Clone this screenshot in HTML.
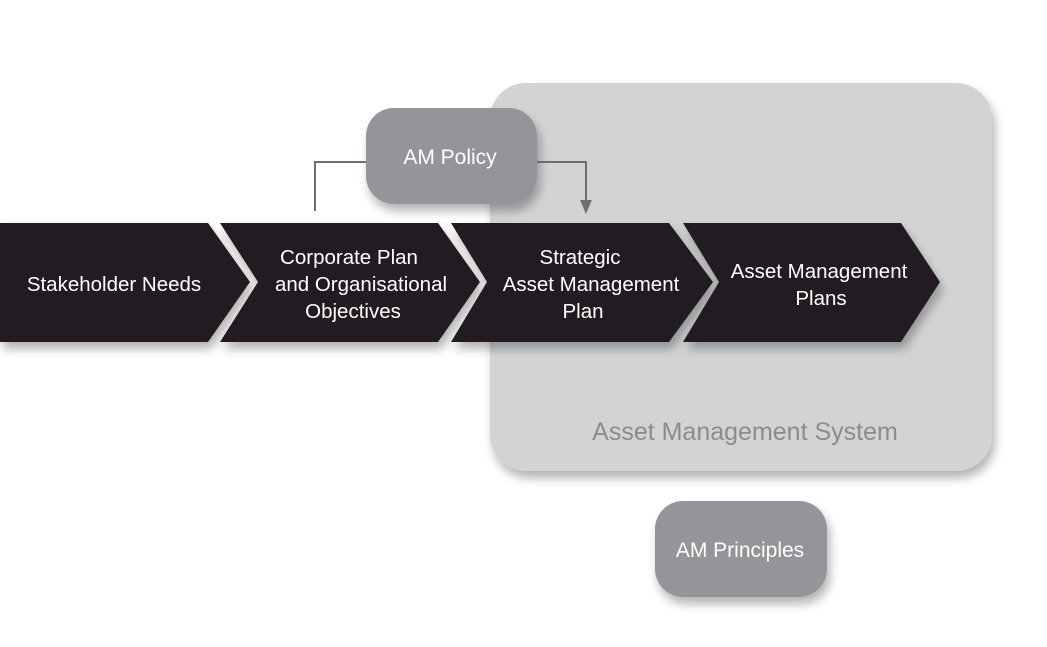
<!DOCTYPE html>
<html><head><style>
body{margin:0;background:#fff;}
svg text{font-family:"Liberation Sans",Arial,sans-serif;}
</style></head><body>
<svg width="1047" height="642" viewBox="0 0 1047 642" xmlns="http://www.w3.org/2000/svg">
<defs>
<filter id="sh" x="-10%" y="-10%" width="130%" height="140%">
<feGaussianBlur in="SourceAlpha" stdDeviation="5"/>
<feOffset dx="3" dy="7"/>
<feComponentTransfer><feFuncA type="linear" slope="0.3"/></feComponentTransfer>
<feMerge><feMergeNode/><feMergeNode in="SourceGraphic"/></feMerge>
</filter>
</defs>
<rect x="490" y="83" width="502" height="388" rx="36" fill="#d2d3d5" filter="url(#sh)"/>
<text x="745" y="440" font-size="25" fill="#8b8c8e" text-anchor="middle">Asset Management System</text>
<rect x="366" y="108" width="171" height="96" rx="28" fill="#939598" filter="url(#sh)"/>
<text x="450" y="164" font-size="21" fill="#fff" text-anchor="middle">AM Policy</text>
<rect x="655" y="501" width="172" height="96" rx="28" fill="#939598" filter="url(#sh)"/>
<text x="740" y="557" font-size="21" fill="#fff" text-anchor="middle">AM Principles</text>
<polyline points="315,211 315,162 366,162" fill="none" stroke="#6d6e70" stroke-width="2"/>
<polyline points="537,162 586,162 586,202" fill="none" stroke="#6d6e70" stroke-width="2"/>
<polygon points="580,200 592,200 586,214" fill="#6d6e70"/>
<g fill="#231f20" filter="url(#sh)">
<polygon points="0,223 208,223 250,282 208,342 0,342"/>
<polygon points="220,223 438,223 480,282 438,342 220,342 258,282"/>
<polygon points="451,223 669,223 713,282 669,342 451,342 487,282"/>
<polygon points="683,223 901,223 940,282 901,342 683,342 719,282"/>
</g>
<g font-size="20.5" fill="#fff" text-anchor="middle">
<text x="114" y="291">Stakeholder Needs</text>
<text x="349" y="264">Corporate Plan</text>
<text x="361" y="291">and Organisational</text>
<text x="353" y="318">Objectives</text>
<text x="580" y="264">Strategic</text>
<text x="591" y="291">Asset Management</text>
<text x="583" y="318">Plan</text>
<text x="819" y="278">Asset Management</text>
<text x="821" y="305">Plans</text>
</g>
</svg>
</body></html>
